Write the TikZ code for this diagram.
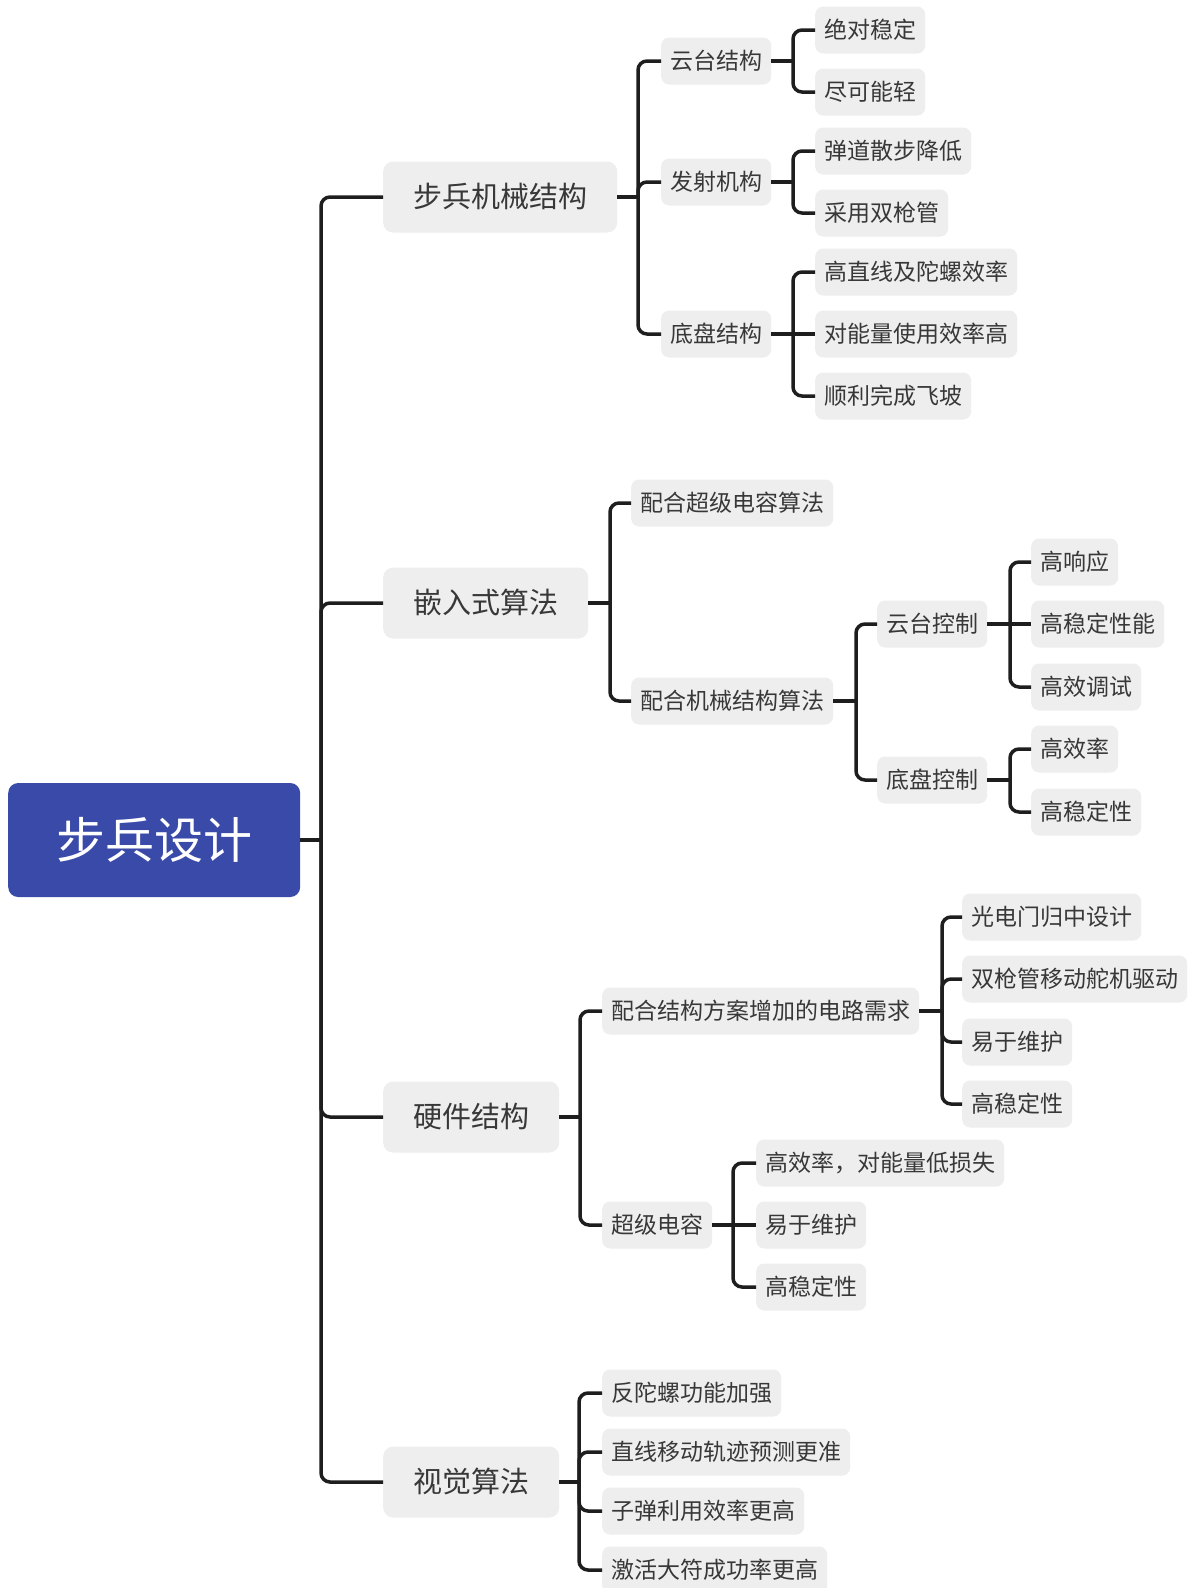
\documentclass[tikz,border=0pt]{standalone}
\usepackage{fontspec}
\setmainfont{Noto Sans CJK SC}
\definecolor{rootblue}{HTML}{3A4AA9}
\definecolor{boxgray}{HTML}{EEEEEE}
\definecolor{txt}{HTML}{383838}
\definecolor{lin}{HTML}{1E1E1E}
\begin{document}
\begin{tikzpicture}[x=1pt,y=-1pt,
  box/.style={fill=boxgray, text=txt, rounded corners=8pt, anchor=west, inner xsep=9pt, inner ysep=0pt,
    minimum height=47pt, font=\fontsize{23}{23}\selectfont, text height=19pt, text depth=2pt},
  lone/.style={box, rounded corners=10pt, inner xsep=30pt, minimum height=71pt,
    font=\fontsize{29}{29}\selectfont, text height=24pt, text depth=2.5pt},
  rootbox/.style={fill=rootblue, text=white, rounded corners=10pt, anchor=west, inner sep=0pt,
    minimum width=292pt, minimum height=114pt, font=\fontsize{49}{49}\selectfont, text height=41pt, text depth=4pt},
  conn/.style={draw=lin, line width=3.5pt, rounded corners=9pt}]
\useasboundingbox (0,0) rectangle (1188,1588);
\fill[white] (0,0) rectangle (1188,1588);

% nodes
\node[rootbox] (root) at (8,840) {步兵设计};
\node[lone] (a) at (383,197) {步兵机械结构};
\node[lone] (b) at (383,603) {嵌入式算法};
\node[lone] (c) at (383,1117) {硬件结构};
\node[lone] (d) at (383,1482) {视觉算法};

\node[box] (a1) at (661,61) {云台结构};
\node[box] (a2) at (661,182) {发射机构};
\node[box] (a3) at (661,334) {底盘结构};
\node[box] (a11) at (815,30) {绝对稳定};
\node[box] (a12) at (815,92) {尽可能轻};
\node[box] (a21) at (815,151) {弹道散步降低};
\node[box] (a22) at (815,213) {采用双枪管};
\node[box] (a31) at (815,272) {高直线及陀螺效率};
\node[box] (a32) at (815,334) {对能量使用效率高};
\node[box] (a33) at (815,396) {顺利完成飞坡};

\node[box] (b1) at (631,503) {配合超级电容算法};
\node[box] (b2) at (631,701) {配合机械结构算法};
\node[box] (b21) at (877,624) {云台控制};
\node[box] (b22) at (877,780) {底盘控制};
\node[box] (b211) at (1031,562) {高响应};
\node[box] (b212) at (1031,624) {高稳定性能};
\node[box] (b213) at (1031,687) {高效调试};
\node[box] (b221) at (1031,749) {高效率};
\node[box] (b222) at (1031,812) {高稳定性};

\node[box] (c1) at (602,1011) {配合结构方案增加的电路需求};
\node[box] (c2) at (602,1225) {超级电容};
\node[box] (c11) at (962,917) {光电门归中设计};
\node[box] (c12) at (962,979) {双枪管移动舵机驱动};
\node[box] (c13) at (962,1042) {易于维护};
\node[box] (c14) at (962,1104) {高稳定性};
\node[box] (c21) at (756,1163) {高效率，对能量低损失};
\node[box] (c22) at (756,1225) {易于维护};
\node[box] (c23) at (756,1287) {高稳定性};

\node[box] (d1) at (602,1393) {反陀螺功能加强};
\node[box] (d2) at (602,1452) {直线移动轨迹预测更准};
\node[box] (d3) at (602,1511) {子弹利用效率更高};
\node[box] (d4) at (602,1570) {激活大符成功率更高};

% junctions
\coordinate (j0) at (321,840);
\coordinate (ja) at (638,197);
\coordinate (ja1) at (793,61);
\coordinate (ja2) at (793,182);
\coordinate (ja3) at (793,334);
\coordinate (jb) at (610,603);
\coordinate (jb2) at (856,701);
\coordinate (jb21) at (1010,624);
\coordinate (jb22) at (1010,780);
\coordinate (jc) at (580,1117);
\coordinate (jc1) at (942,1011);
\coordinate (jc2) at (733,1225);
\coordinate (jd) at (579,1482);

% connectors
\draw[conn] (root.east) -- (j0);
\foreach \n in {a,b,c,d} \draw[conn] (j0) |- (\n.west);

\draw[conn] (a.east) -- (ja);
\foreach \n in {a1,a2,a3} \draw[conn] (ja) |- (\n.west);
\draw[conn] (a1.east) -- (ja1);
\foreach \n in {a11,a12} \draw[conn] (ja1) |- (\n.west);
\draw[conn] (a2.east) -- (ja2);
\foreach \n in {a21,a22} \draw[conn] (ja2) |- (\n.west);
\draw[conn] (a3.east) -- (a32.west);
\foreach \n in {a31,a33} \draw[conn] (ja3) |- (\n.west);

\draw[conn] (b.east) -- (jb);
\foreach \n in {b1,b2} \draw[conn] (jb) |- (\n.west);
\draw[conn] (b2.east) -- (jb2);
\foreach \n in {b21,b22} \draw[conn] (jb2) |- (\n.west);
\draw[conn] (b21.east) -- (b212.west);
\foreach \n in {b211,b213} \draw[conn] (jb21) |- (\n.west);
\draw[conn] (b22.east) -- (jb22);
\foreach \n in {b221,b222} \draw[conn] (jb22) |- (\n.west);

\draw[conn] (c.east) -- (jc);
\foreach \n in {c1,c2} \draw[conn] (jc) |- (\n.west);
\draw[conn] (c1.east) -- (jc1);
\foreach \n in {c11,c12,c13,c14} \draw[conn] (jc1) |- (\n.west);
\draw[conn] (c2.east) -- (c22.west);
\foreach \n in {c21,c23} \draw[conn] (jc2) |- (\n.west);

\draw[conn] (d.east) -- (jd);
\foreach \n in {d1,d2,d3,d4} \draw[conn] (jd) |- (\n.west);
\end{tikzpicture}
\end{document}
